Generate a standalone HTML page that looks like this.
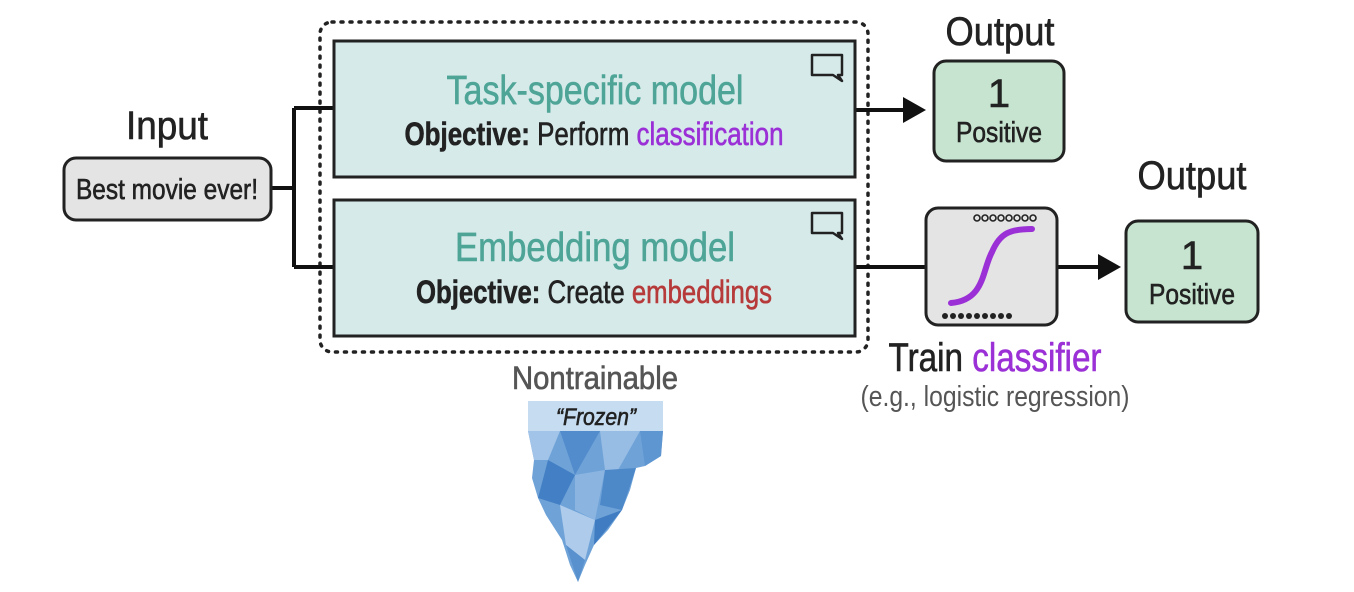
<!DOCTYPE html>
<html><head><meta charset="utf-8"><style>
html,body{margin:0;padding:0;background:#fff;}
svg{display:block;}
text{font-family:"Liberation Sans Narrow","Liberation Sans",sans-serif;}
.m{stroke-width:0.6;}
</style></head><body>
<svg width="1354" height="592" viewBox="0 0 1354 592" xmlns="http://www.w3.org/2000/svg">
<rect x="320" y="22" width="548" height="330" rx="12" fill="none" stroke="#222" stroke-width="3.5" stroke-dasharray="2 7" stroke-linecap="round"/>
<path d="M271 188 H294 M294 108 V267 M294 108 H334 M294 267 H334" stroke="#111" stroke-width="4" fill="none"/>
<path d="M855 110 H905" stroke="#111" stroke-width="4"/>
<polygon points="903,97 926,110 903,123" fill="#111"/>
<path d="M855 267 H926 M1057 267 H1100" stroke="#111" stroke-width="4"/>
<polygon points="1098,254 1121,267 1098,280" fill="#111"/>
<text class="m" x="167" y="139" font-size="40" text-anchor="middle" textLength="82" lengthAdjust="spacingAndGlyphs" fill="#222" stroke="#222">Input</text>
<rect x="64" y="158" width="207" height="62" rx="12" fill="#e4e4e4" stroke="#222" stroke-width="3"/>
<text class="m" x="167" y="199" font-size="29" text-anchor="middle" textLength="182" lengthAdjust="spacingAndGlyphs" fill="#222" stroke="#222">Best movie ever!</text>
<rect x="334" y="41" width="521" height="136" fill="#d6eaea" stroke="#222" stroke-width="3"/>
<path d="M812 55 H842 V75 H838 L842 81 L833 75 H812 Z" fill="none" stroke="#222" stroke-width="2.5" stroke-linejoin="round"/>
<text class="m" x="595" y="104" font-size="41" text-anchor="middle" textLength="297" lengthAdjust="spacingAndGlyphs" fill="#4ea597" stroke="#4ea597">Task-specific model</text>
<text class="m" x="594" y="145" font-size="32" text-anchor="middle" textLength="379" lengthAdjust="spacingAndGlyphs" fill="#222" stroke="#222"><tspan font-weight="bold">Objective:</tspan> Perform <tspan fill="#9a30d6" stroke="#9a30d6">classification</tspan></text>
<rect x="334" y="200" width="521" height="136" fill="#d6eaea" stroke="#222" stroke-width="3"/>
<path d="M812 213 H842 V233 H838 L842 239 L833 233 H812 Z" fill="none" stroke="#222" stroke-width="2.5" stroke-linejoin="round"/>
<text class="m" x="595" y="261" font-size="41" text-anchor="middle" textLength="280" lengthAdjust="spacingAndGlyphs" fill="#4ea597" stroke="#4ea597">Embedding model</text>
<text class="m" x="594" y="303" font-size="32" text-anchor="middle" textLength="356" lengthAdjust="spacingAndGlyphs" fill="#222" stroke="#222"><tspan font-weight="bold">Objective:</tspan> Create <tspan fill="#b73a3a" stroke="#b73a3a">embeddings</tspan></text>
<text class="m" x="1000" y="45" font-size="40" text-anchor="middle" textLength="109" lengthAdjust="spacingAndGlyphs" fill="#222" stroke="#222">Output</text>
<rect x="934" y="61" width="130" height="100" rx="12" fill="#c6e4cf" stroke="#222" stroke-width="3"/>
<text class="m" x="999" y="107" font-size="40" text-anchor="middle" fill="#222" stroke="#222">1</text>
<text class="m" x="999" y="142" font-size="29" text-anchor="middle" textLength="86" lengthAdjust="spacingAndGlyphs" fill="#222" stroke="#222">Positive</text>
<rect x="926" y="208" width="131" height="117" rx="12" fill="#e4e4e4" stroke="#222" stroke-width="3"/>
<g fill="none" stroke="#222" stroke-width="1.6">
<circle cx="977" cy="218" r="3"/><circle cx="985" cy="218" r="3"/><circle cx="993" cy="218" r="3"/><circle cx="1001" cy="218" r="3"/><circle cx="1009" cy="218" r="3"/><circle cx="1017" cy="218" r="3"/><circle cx="1025" cy="218" r="3"/><circle cx="1033" cy="218" r="3"/>
</g>
<g fill="#222">
<circle cx="945" cy="316" r="3"/><circle cx="953" cy="316" r="3"/><circle cx="961" cy="316" r="3"/><circle cx="969" cy="316" r="3"/><circle cx="977" cy="316" r="3"/><circle cx="985" cy="316" r="3"/><circle cx="993" cy="316" r="3"/><circle cx="1001" cy="316" r="3"/><circle cx="1009" cy="316" r="3"/>
</g>
<path d="M951 303 C985 300 982 270 992 252 C1000 233 1010 229 1032 229" fill="none" stroke="#9a30d6" stroke-width="6" stroke-linecap="round"/>
<text class="m" x="1192" y="189" font-size="40" text-anchor="middle" textLength="109" lengthAdjust="spacingAndGlyphs" fill="#222" stroke="#222">Output</text>
<rect x="1126" y="221" width="132" height="101" rx="12" fill="#c6e4cf" stroke="#222" stroke-width="3"/>
<text class="m" x="1192" y="269" font-size="40" text-anchor="middle" fill="#222" stroke="#222">1</text>
<text class="m" x="1192" y="304" font-size="29" text-anchor="middle" textLength="86" lengthAdjust="spacingAndGlyphs" fill="#222" stroke="#222">Positive</text>
<text class="m" x="995" y="371" font-size="40" text-anchor="middle" textLength="213" lengthAdjust="spacingAndGlyphs" fill="#222" stroke="#222">Train <tspan fill="#9a30d6" stroke="#9a30d6">classifier</tspan></text>
<text x="995" y="406" font-size="29" text-anchor="middle" textLength="269" lengthAdjust="spacingAndGlyphs" fill="#555">(e.g., logistic regression)</text>
<text class="m" x="595" y="389" font-size="32" text-anchor="middle" textLength="166" lengthAdjust="spacingAndGlyphs" fill="#555" stroke="#555">Nontrainable</text>
<rect x="528" y="401" width="135" height="30" fill="#c6dcf0"/>
<text class="m" x="596" y="425" font-size="24" font-style="italic" text-anchor="middle" textLength="80" lengthAdjust="spacingAndGlyphs" fill="#222" stroke="#222">“Frozen”</text>
<polygon points="528,431 663,431 661,456 645,466 636,468 630,490 622,510 608,530 594,545 585,565 578,582 570,565 562,540 546,515 538,498 532,478 534,460" fill="#6fa3d8"/>
<g opacity="0.9">
<polygon points="528,431 560,431 548,460 534,460" fill="#a9c8eb"/>
<polygon points="560,431 600,431 575,475" fill="#4f8acb"/>
<polygon points="600,431 640,431 618,470 605,470" fill="#9cc0e6"/>
<polygon points="640,431 663,431 661,456 645,466" fill="#5d95d1"/>
<polygon points="548,460 575,475 560,505 538,498" fill="#3f7cc2"/>
<polygon points="575,475 605,470 595,520 575,510" fill="#8fb6e3"/>
<polygon points="605,470 636,468 622,510 600,505" fill="#4a86c8"/>
<polygon points="560,505 595,520 585,560 566,545" fill="#b5d0ee"/>
<polygon points="595,520 622,510 594,545" fill="#3a78bf"/>
<polygon points="566,545 585,560 578,582" fill="#5790cf"/>
</g>
</svg>
</body></html>
